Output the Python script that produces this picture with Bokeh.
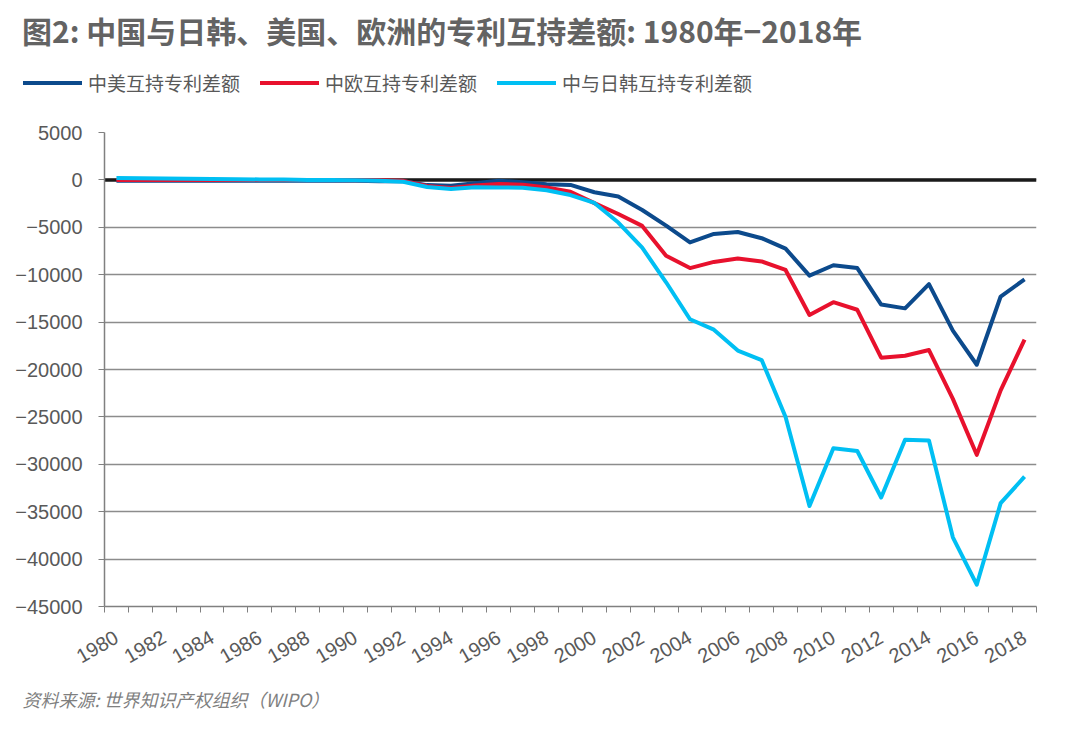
import math
from bokeh.plotting import figure
from bokeh.layouts import column
from bokeh.models import Range1d, FixedTicker, Span, Title, Div
from bokeh.embed import file_html
from bokeh.resources import INLINE

# ---------------- data ----------------
years = list(range(1980, 2019))
us_diff = [-100, -100, -100, -100, -100, -100, -100, -100, -100, -100,
           -100, -150, -150, -550, -620, -350, -80, -250, -450, -530,
           -1300, -1760, -3170, -4820, -6600, -5700, -5500, -6150, -7250, -10100,
           -9000, -9300, -13150, -13550, -11000, -15900, -19500, -12300, -10500]
eu_diff = [-20, -20, -20, -20, -20, -20, -20, -20, -20, -20,
           -30, -50, -100, -650, -850, -600, -420, -500, -800, -1250,
           -2450, -3600, -4850, -8000, -9300, -8650, -8300, -8600, -9500, -14250,
           -12900, -13700, -18750, -18550, -17950, -23100, -29000, -22200, -16850]
jk_diff = [200, 180, 150, 120, 100, 80, 50, 30, 0, -20,
           -50, -100, -200, -750, -950, -780, -790, -830, -1100, -1600,
           -2430, -4500, -7150, -10800, -14700, -15800, -18000, -19000, -25000, -34400,
           -28300, -28600, -33500, -27400, -27500, -37700, -42700, -34100, -31300]
series_names = ["中美互持专利差额", "中欧互持专利差额", "中与日韩互持专利差额"]
series_colors = ["#0c4a8c", "#e8112d", "#00bff3"]
y_ticks = list(range(-45000, 5001, 5000))
x_label_years = list(range(1980, 2019, 2))
title_text = "图2: 中国与日韩、美国、欧洲的专利互持差额: 1980年−2018年"
source_text = "资料来源: 世界知识产权组织（WIPO）"

GRAY_TXT = "#595959"
TITLE_GRAY = "#636363"
AX = "#808080"
CJK = "Noto Sans CJK SC"
W = 1064
HEAD_H = 110

# ---------------- header: title + legend ----------------
legend_items = "".join(
    f'<span style="display:inline-flex;align-items:center;margin-right:20px;">'
    f'<span style="display:inline-block;width:59px;height:4px;background:{c};margin-right:6px;"></span>'
    f'<span>{n}</span></span>'
    for n, c in zip(series_names, series_colors))
header_html = (
    f'<div style="position:relative;width:{W}px;height:{HEAD_H}px;font-family:\'{CJK}\';">'
    f'<div style="position:absolute;left:22px;top:11px;height:38px;line-height:38px;'
    f'font-size:30px;font-weight:bold;color:{TITLE_GRAY};white-space:nowrap;">{title_text}</div>'
    f'<div style="position:absolute;left:23px;top:70px;height:26px;line-height:26px;display:flex;'
    f'align-items:center;font-size:19px;color:{GRAY_TXT};white-space:nowrap;">{legend_items}</div>'
    f'</div>')
header = Div(text=header_html, width=W, height=HEAD_H, margin=0)

# ---------------- main chart ----------------
p = figure(width=W, height=726 - HEAD_H, output_backend="svg", toolbar_location=None,
           x_range=Range1d(years[0] - 0.5, years[-1] + 0.5),
           y_range=Range1d(y_ticks[0], y_ticks[-1]),
           min_border_left=104, min_border_right=28,
           min_border_top=132 - HEAD_H, min_border_bottom=120)
p.title = None
p.outline_line_color = None

xa = p.xaxis[0]
xa.ticker = FixedTicker(ticks=x_label_years,
                        minor_ticks=[y - 0.5 for y in years] + [years[-1] + 0.5])
xa.major_tick_out = 0
xa.major_tick_in = 0
xa.minor_tick_out = 6
xa.minor_tick_in = 0
xa.minor_tick_line_color = AX
xa.minor_tick_line_width = 1
xa.axis_line_color = AX
xa.axis_line_width = 1.5
xa.major_label_orientation = math.radians(30)
xa.major_label_standoff = 23
xa.major_label_text_font = "Liberation Sans"
xa.major_label_text_font_size = "20px"
xa.major_label_text_color = GRAY_TXT

ya = p.yaxis[0]
ya.ticker = FixedTicker(ticks=y_ticks)
ya.major_tick_out = 6
ya.major_tick_in = 0
ya.major_tick_line_color = AX
ya.minor_tick_line_color = None
ya.axis_line_color = AX
ya.axis_line_width = 1.5
ya.major_label_standoff = 16
ya.major_label_text_font = "Liberation Sans"
ya.major_label_text_font_size = "20px"
ya.major_label_text_color = GRAY_TXT

p.xgrid.visible = False
p.ygrid.ticker = FixedTicker(ticks=y_ticks)
p.ygrid.grid_line_color = "#8c8c8c"
p.ygrid.grid_line_width = 1.5

p.add_layout(Span(location=0, dimension="width", line_color="#1a1a1a",
                  line_width=3.5, level="underlay"))

for vals, col in zip([us_diff, eu_diff, jk_diff], series_colors):
    p.line(years, vals, line_color=col, line_width=4, line_join="round")

src = Title(text=source_text, align="left", offset=-82, vertical_align="middle",
            standoff=24, text_font=CJK, text_font_style="italic",
            text_font_size="18px", text_color="#7f7f7f")
p.add_layout(src, "below")

layout = column(header, p, spacing=0)
open("out.html", "w").write(file_html(layout, INLINE))
